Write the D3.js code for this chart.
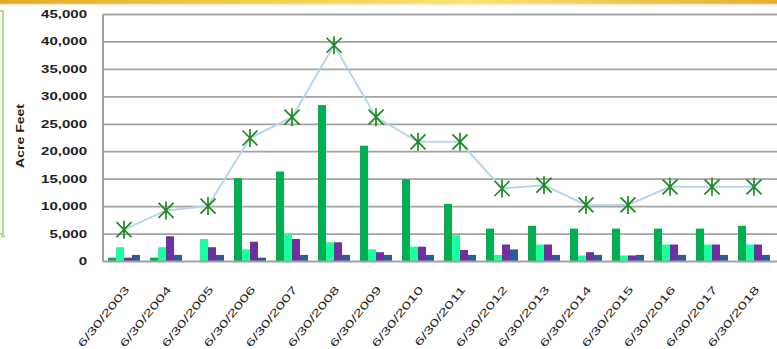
<!DOCTYPE html>
<html>
<head>
<meta charset="utf-8">
<script src="https://cdn.jsdelivr.net/npm/d3@7"></script>
<style>
  html, body { margin: 0; padding: 0; background: #ffffff; }
  svg { display: block; }
  text { font-family: "Liberation Sans", Arial, sans-serif; }
</style>
</head>
<body>
<svg id="chart" width="777" height="349"></svg>
<script>
// Fiscal year-end dates
const categories = [
  "6/30/2003", "6/30/2004", "6/30/2005", "6/30/2006", "6/30/2007", "6/30/2008",
  "6/30/2009", "6/30/2010", "6/30/2011", "6/30/2012", "6/30/2013", "6/30/2014",
  "6/30/2015", "6/30/2016", "6/30/2017", "6/30/2018"
];

// Volumes in acre feet, one value per date
const volumeA = [700, 700, 0, 15200, 16400, 28500, 21100, 15000, 10500, 6000, 6500, 6000, 6000, 6000, 6000, 6500];
const volumeB = [2600, 2600, 4100, 2200, 5000, 3500, 2200, 2700, 4800, 1200, 3100, 1100, 1100, 3100, 3100, 3100];
const volumeC = [700, 4600, 2600, 3600, 4100, 3500, 1700, 2700, 2100, 3100, 3100, 1700, 1100, 3100, 3100, 3100];
const volumeD = [1200, 1200, 1200, 700, 1200, 1200, 1200, 1200, 1200, 2200, 1200, 1200, 1200, 1200, 1200, 1200];
const totalVolume = [5800, 9300, 10100, 22500, 26300, 39400, 26300, 21800, 21800, 13300, 13900, 10300, 10300, 13600, 13600, 13600];

// Value axis ticks
const yTicks = [0, 5000, 10000, 15000, 20000, 25000, 30000, 35000, 40000, 45000];
const yAxisTitle = "Acre Feet";

const barSeries = [volumeA, volumeB, volumeC, volumeD];
const barColors = ["#00b050", "#1dff9e", "#7030a0", "#2f5b95"];

const svg = d3.select("#chart");
const plot = { left: 103, right: 775, top: 14.5, bottom: 261.5 };

// Gold header strip
const defs = svg.append("defs");
const grad = defs.append("linearGradient").attr("id", "gold").attr("x1", "0").attr("x2", "1");
[["0", "#e3a92c"], ["0.35", "#f1cf52"], ["0.6", "#f8e27a"], ["1", "#e4ad35"]].forEach(([o, c]) =>
  grad.append("stop").attr("offset", o).attr("stop-color", c));
const fade = defs.append("linearGradient").attr("id", "goldFade").attr("x1", "0").attr("x2", "0").attr("y1", "0").attr("y2", "1");
fade.append("stop").attr("offset", "0").attr("stop-color", "#f6e7b0");
fade.append("stop").attr("offset", "1").attr("stop-color", "#ffffff");
svg.append("rect").attr("x", 0).attr("y", 3.5).attr("width", 777).attr("height", 3).attr("fill", "url(#goldFade)");
svg.append("rect").attr("x", 0).attr("y", 0).attr("width", 777).attr("height", 3.8).attr("fill", "url(#gold)");

// Clipped panel at the left edge
svg.append("rect").attr("x", 1).attr("y", 235).attr("width", 4).attr("height", 2.5).attr("fill", "#c8c8c8");
svg.append("rect")
  .attr("x", -10).attr("y", 11).attr("width", 13).attr("height", 223)
  .attr("fill", "#f4faee").attr("stroke", "#a6cf7e").attr("stroke-width", 1.6);

// Scales
const x0 = d3.scaleBand().domain(categories).range([plot.left, plot.right])
  .paddingInner(10 / 42).paddingOuter(5 / 42);
const x1 = d3.scaleBand().domain(d3.range(barSeries.length)).range([0, x0.bandwidth()]);
const y = d3.scaleLinear().domain([0, 45000]).range([plot.bottom, plot.top]);

// Horizontal gridlines
svg.append("g").selectAll("line").data(yTicks.filter(t => t > 0)).join("line")
  .attr("x1", plot.left).attr("x2", 777)
  .attr("y1", d => y(d)).attr("y2", d => y(d))
  .attr("stroke", "#a3a3a3").attr("stroke-width", 1.8);

// Clustered bars
const groups = svg.append("g").selectAll("g").data(categories).join("g")
  .attr("transform", d => `translate(${x0(d)},0)`);
groups.selectAll("rect")
  .data((d, i) => barSeries.map((s, k) => ({ k, v: s[i] })))
  .join("rect")
  .attr("x", d => x1(d.k))
  .attr("width", x1.bandwidth())
  .attr("y", d => y(d.v))
  .attr("height", d => y(0) - y(d.v))
  .attr("fill", d => barColors[d.k]);

// Axis lines
svg.append("line").attr("x1", plot.left).attr("x2", 777).attr("y1", y(0)).attr("y2", y(0))
  .attr("stroke", "#a0a0a0").attr("stroke-width", 2);
svg.append("line").attr("x1", plot.left).attr("x2", plot.left).attr("y1", y(45000)).attr("y2", y(0))
  .attr("stroke", "#a0a0a0").attr("stroke-width", 2);

// Total line with star markers
const cx = d => x0(d) + x0.bandwidth() / 2;
const totalPts = categories.map((c, i) => [cx(c), y(totalVolume[i])]);
svg.append("path")
  .attr("d", d3.line()(totalPts))
  .attr("fill", "none").attr("stroke", "#b6d6ea").attr("stroke-width", 2);
svg.append("g").selectAll("path").data(totalPts).join("path")
  .attr("transform", d => `translate(${d[0]},${d[1]})`)
  .attr("d", "M-7.5,-7.5L7.5,7.5M-7.5,7.5L7.5,-7.5M0,-9L0,9")
  .attr("fill", "none").attr("stroke", "#1c8a22").attr("stroke-width", 1.7);

// Stretch a text element horizontally along its own baseline
function stretch(sel, factor) {
  sel.each(function () {
    const len = this.getComputedTextLength();
    d3.select(this).attr("textLength", len * factor).attr("lengthAdjust", "spacingAndGlyphs");
  });
}

// Value axis labels
const yLabels = svg.append("g").selectAll("text").data(yTicks).join("text")
  .attr("x", 87).attr("y", d => y(d)).attr("dy", "0.35em")
  .attr("text-anchor", "end")
  .attr("font-size", 10).attr("font-weight", "bold").attr("fill", "#1e1e1e")
  .text(d => d3.format(",")(d));
stretch(yLabels, 1.5);

// Axis title
const title = svg.append("text")
  .attr("transform", "translate(24,136) rotate(-90)")
  .attr("text-anchor", "middle")
  .attr("font-size", 10).attr("font-weight", "bold").attr("fill", "#1e1e1e")
  .text(yAxisTitle);
stretch(title, 1.4);

// Category labels, rotated
const xLabels = svg.append("g").selectAll("text").data(categories).join("text")
  .attr("transform", d => `translate(${cx(d) + 3},${plot.bottom + 26}) rotate(-51)`)
  .attr("text-anchor", "end")
  .attr("dy", "0.35em")
  .attr("font-size", 10.5).attr("fill", "#262626")
  .text(d => d);
stretch(xLabels, 1.6);
</script>
</body>
</html>
